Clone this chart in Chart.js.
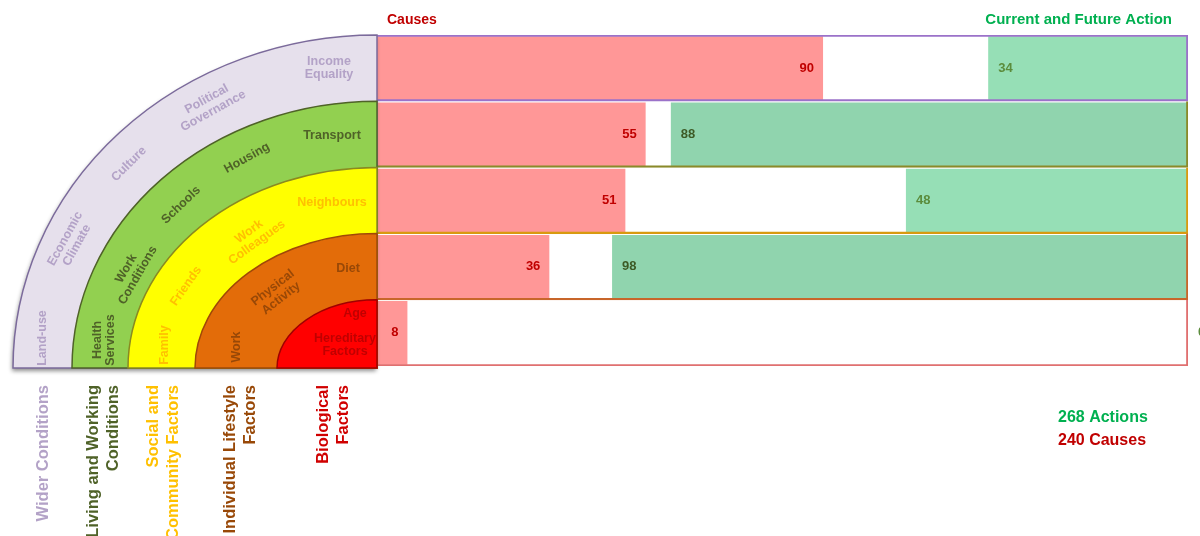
<!DOCTYPE html>
<html>
<head>
<meta charset="utf-8">
<script src="https://cdn.jsdelivr.net/npm/chart.js@4.4.1/dist/chart.umd.min.js"></script>
<style>
  html, body { margin: 0; padding: 0; background: #fff; }
  #wrap { width: 1200px; height: 536px; }
</style>
</head>
<body>
<div id="wrap"><canvas id="chart" width="1200" height="536"></canvas></div>
<script>
// rows of the rainbow, outermost first (category labels split in lines as printed)
const categoryLines = [
  ['Wider Conditions'],
  ['Living and Working', 'Conditions'],
  ['Social and', 'Community Factors'],
  ['Individual Lifestyle', 'Factors'],
  ['Biological', 'Factors']
];
const categories = categoryLines.map(l => l.join(' '));

const causes = [90, 55, 51, 36, 8];
const actions = [34, 88, 48, 98, 0];

// factors written inside each band, from the bottom-left going round
const bandFactors = [
  ['Land-use', 'Economic Climate', 'Culture', 'Political Governance', 'Income Equality'],
  ['Health Services', 'Work Conditions', 'Schools', 'Housing', 'Transport'],
  ['Family', 'Friends', 'Work Colleagues', 'Neighbours'],
  ['Work', 'Physical Activity', 'Diet'],
  ['Hereditary Factors', 'Age']
];

const CAUSE_MIN = 2, CAUSE_MAX = 162, ACTION_MAX = 138;

// styling
const bands = [
  { fill: '#e6e0ec', stroke: '#7b6a9b', text: '#b3a2c7', rx: 364 },
  { fill: '#92d050', stroke: '#4f6228', text: '#4f6228', rx: 305 },
  { fill: '#ffff00', stroke: '#8a8a20', text: '#ffc000', rx: 249 },
  { fill: '#e36c09', stroke: '#a04808', text: '#984807', rx: 182 },
  { fill: '#ff0000', stroke: '#a00000', text: '#c00000', rx: 100 }
];
const bottomColors = ['#b3a2c7', '#4f6228', '#ffc000', '#984807', '#d00000'];
const bottomX = [43, 93, 153, 230, 323];
const frameColors = ['#9b72c9', '#8a8a2a', '#d89a10', '#c8662a', '#e07070'];
const actionColors = ['#96dfb6', '#90d4ae', '#96dfb6', '#90d4ae', '#96dfb6'];
const actionTextColors = ['#5b8c3c', '#3d5a26', '#5b8c3c', '#3d5a26', '#5b8c3c'];

// label placement inside bands: offset from rainbow centre + rotation (deg)
const factorPlace = [
  [{ dx: -334, dy: -30, r: -90 }, { dx: -306, dy: -126, r: -61 }, { dx: -248, dy: -204, r: -45 }, { dx: -167, dy: -263, r: -29 }, { dx: -48, dy: -300, r: 0 }],
  [{ dx: -273, dy: -28, r: -90 }, { dx: -245, dy: -96, r: -60 }, { dx: -196, dy: -163, r: -44 }, { dx: -130, dy: -210, r: -29 }, { dx: -45, dy: -232, r: 0 }],
  [{ dx: -212, dy: -23, r: -90 }, { dx: -191, dy: -82, r: -55 }, { dx: -124, dy: -131, r: -36 }, { dx: -45, dy: -165, r: 0 }],
  [{ dx: -140, dy: -21, r: -90 }, { dx: -100, dy: -75, r: -38 }, { dx: -29, dy: -99, r: 0 }],
  [{ dx: -32, dy: -23, r: 0 }, { dx: -22, dy: -54, r: 0 }]
];

const FONT = '"Liberation Sans", Arial, sans-serif';

const rainbow = {
  id: 'rainbow',
  afterDraw(chart) {
    const { ctx, chartArea } = chart;
    const cx = chartArea.left, cy = chartArea.bottom + 2;
    const step = (chartArea.bottom - chartArea.top) / categories.length;
    ctx.save();

    // bands
    bands.forEach((b, i) => {
      const ry = cy - (chartArea.top + step * i);
      ctx.beginPath();
      ctx.moveTo(cx, cy);
      ctx.lineTo(cx - b.rx, cy);
      ctx.ellipse(cx, cy, b.rx, ry, 0, Math.PI, Math.PI * 1.5);
      ctx.closePath();
      if (i === 0) {
        ctx.shadowColor = 'rgba(0,0,0,0.45)';
        ctx.shadowBlur = 4;
        ctx.shadowOffsetX = -1;
        ctx.shadowOffsetY = 3;
      }
      ctx.fillStyle = b.fill;
      ctx.fill();
      ctx.shadowColor = 'transparent';
      ctx.strokeStyle = b.stroke;
      ctx.lineWidth = 1.5;
      ctx.stroke();
    });

    // factor labels
    ctx.font = 'bold 12.5px ' + FONT;
    ctx.textAlign = 'center';
    ctx.textBaseline = 'middle';
    bandFactors.forEach((list, i) => {
      ctx.fillStyle = bands[i].text;
      list.forEach((name, j) => {
        const p = factorPlace[i][j];
        const lines = name.includes('-') ? [name] : name.split(' ');
        ctx.save();
        ctx.translate(cx + p.dx, cy + p.dy);
        ctx.rotate(p.r * Math.PI / 180);
        lines.forEach((ln, k) => {
          ctx.fillText(ln, 0, (k - (lines.length - 1) / 2) * 13.5);
        });
        ctx.restore();
      });
    });

    // layer names under the rainbow
    ctx.font = 'bold 16.5px ' + FONT;
    ctx.textAlign = 'right';
    categoryLines.forEach((lines, i) => {
      ctx.fillStyle = bottomColors[i];
      lines.forEach((ln, k) => {
        ctx.save();
        ctx.translate(bottomX[i] + k * 20, 385);
        ctx.rotate(-Math.PI / 2);
        ctx.fillText(ln, 0, 0);
        ctx.restore();
      });
    });

    // headings
    ctx.textBaseline = 'middle';
    ctx.textAlign = 'left';
    ctx.font = 'bold 14px ' + FONT;
    ctx.fillStyle = '#c00000';
    ctx.fillText('Causes', 387, 20);
    ctx.textAlign = 'right';
    ctx.font = 'bold 15px ' + FONT;
    ctx.fillStyle = '#00b050';
    ctx.fillText('Current and Future Action', 1172, 20);

    // totals
    const sum = a => a.reduce((s, v) => s + v, 0);
    ctx.textAlign = 'left';
    ctx.font = 'bold 16px ' + FONT;
    ctx.fillStyle = '#00b050';
    ctx.fillText(sum(actions) + ' Actions', 1058, 418);
    ctx.fillStyle = '#c00000';
    ctx.fillText(sum(causes) + ' Causes', 1058, 441);

    ctx.restore();
  }
};

const valueLabels = {
  id: 'valueLabels',
  afterDatasetsDraw(chart) {
    const { ctx } = chart;
    ctx.save();
    ctx.font = 'bold 13px ' + FONT;
    ctx.textBaseline = 'middle';
    chart.getDatasetMeta(1).data.forEach((el, i) => {
      ctx.textAlign = 'right';
      ctx.fillStyle = '#c00000';
      ctx.fillText(causes[i], el.x - 9, el.y);
    });
    chart.getDatasetMeta(2).data.forEach((el, i) => {
      ctx.textAlign = 'left';
      ctx.fillStyle = actionTextColors[i];
      ctx.fillText(actions[i], el.x + 10, el.y);
    });
    ctx.restore();
  }
};

const ctx = document.getElementById('chart').getContext('2d');
new Chart(ctx, {
  type: 'bar',
  data: {
    labels: categories,
    datasets: [
      {
        label: 'frame',
        data: categories.map(() => CAUSE_MAX),
        xAxisID: 'x',
        backgroundColor: 'rgba(0,0,0,0)',
        borderColor: frameColors,
        borderWidth: c => c.dataIndex === 0 ? 1.5 : { top: 0, right: 1.5, bottom: 1.5, left: 1.5 },
        borderSkipped: false,
        barPercentage: 1,
        categoryPercentage: 1,
        grouped: false,
        order: 0
      },
      {
        label: 'Causes',
        data: causes,
        xAxisID: 'x',
        backgroundColor: '#ff9797',
        barPercentage: 0.96,
        categoryPercentage: 1,
        grouped: false,
        order: 1
      },
      {
        label: 'Current and Future Action',
        data: actions,
        xAxisID: 'x2',
        backgroundColor: actionColors,
        barPercentage: 0.96,
        categoryPercentage: 1,
        grouped: false,
        order: 1
      }
    ]
  },
  options: {
    indexAxis: 'y',
    responsive: false,
    animation: false,
    layout: { padding: { left: 377, right: 12, top: 35, bottom: 170 } },
    plugins: {
      legend: { display: false },
      tooltip: { enabled: false }
    },
    scales: {
      y: { display: false },
      x: { display: false, min: CAUSE_MIN, max: CAUSE_MAX },
      x2: { display: false, reverse: true, min: 0, max: ACTION_MAX, position: 'top' }
    }
  },
  plugins: [rainbow, valueLabels]
});
</script>
</body>
</html>
